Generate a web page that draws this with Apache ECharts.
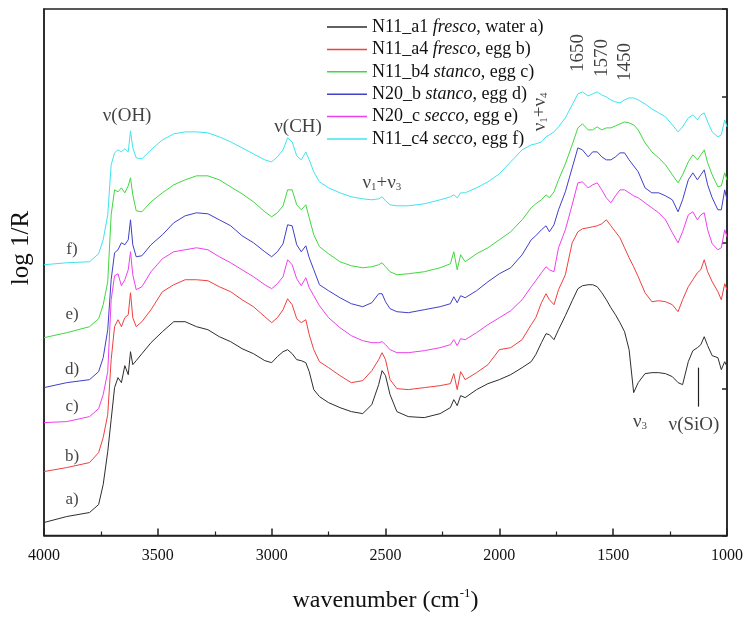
<!DOCTYPE html>
<html>
<head>
<meta charset="utf-8">
<title>NIR reflectance spectra</title>
<script src="https://cdn.jsdelivr.net/npm/echarts@6/dist/echarts.min.js"></script>
<style>
    html, body { margin: 0; padding: 0; background: #fff; }
    #chart { width: 751px; height: 618px; }
</style>
</head>
<body>
<div id="chart"></div>
<script>
// wavenumber grid (cm-1), shared by every spectrum
var wavenumbers = [
    4000, 3900, 3800, 3760, 3740, 3720, 3705, 3690, 3675, 3660,
    3645, 3630, 3620, 3610, 3595, 3570, 3530, 3480, 3430, 3380,
    3330, 3280, 3230, 3180, 3130, 3080, 3030, 3000, 2975, 2950,
    2930, 2910, 2890, 2870, 2850, 2835, 2815, 2790, 2750, 2700,
    2650, 2600, 2560, 2530, 2515, 2500, 2480, 2450, 2400, 2330,
    2260, 2215, 2200, 2185, 2170, 2150, 2100, 2050, 2000, 1950,
    1900, 1860, 1840, 1815, 1795, 1780, 1760, 1740, 1710, 1680,
    1655, 1635, 1610, 1590, 1570, 1550, 1530, 1510, 1490, 1470,
    1450, 1430, 1410, 1390, 1360, 1330, 1300, 1270, 1240, 1215,
    1195, 1170, 1150, 1130, 1115, 1100, 1085, 1065, 1040, 1025,
    1010, 1000
];

// log 1/R, spectra offset vertically (arbitrary units)
// N11_a1 fresco, water (black, lowest)
var specN11a1 = [
    0.13, 0.19, 0.23, 0.31, 0.51, 0.84, 1.16, 1.48, 1.58, 1.53,
    1.70, 1.61, 1.84, 1.71, 1.75, 1.82, 1.93, 2.04, 2.14, 2.14,
    2.09, 2.06, 1.99, 1.94, 1.87, 1.82, 1.75, 1.73, 1.79, 1.84,
    1.86, 1.82, 1.76, 1.75, 1.73, 1.64, 1.46, 1.39, 1.33, 1.28,
    1.24, 1.22, 1.31, 1.51, 1.65, 1.60, 1.41, 1.24, 1.19, 1.18,
    1.22, 1.28, 1.36, 1.30, 1.40, 1.38, 1.46, 1.52, 1.56, 1.61,
    1.68, 1.74, 1.81, 1.93, 2.02, 2.01, 1.96, 2.06, 2.20, 2.35,
    2.47, 2.50, 2.51, 2.51, 2.49, 2.43, 2.36, 2.28, 2.21, 2.13,
    2.04, 1.86, 1.43, 1.53, 1.62, 1.63, 1.63, 1.62, 1.59, 1.53,
    1.51, 1.74, 1.85, 1.88, 1.91, 1.99, 1.90, 1.80, 1.78, 1.66,
    1.74, 1.69
];
// N11_a4 fresco, egg (red)
var specN11a4 = [
    0.64, 0.68, 0.73, 0.83, 0.98, 1.21, 1.76, 2.09, 2.16, 2.09,
    2.18, 2.21, 2.43, 2.18, 2.09, 2.14, 2.26, 2.44, 2.51, 2.56,
    2.56, 2.55, 2.49, 2.44, 2.36, 2.29, 2.19, 2.13, 2.18, 2.26,
    2.37, 2.31, 2.17, 2.13, 2.16, 2.01, 1.86, 1.74, 1.68, 1.60,
    1.53, 1.55, 1.65, 1.76, 1.83, 1.76, 1.56, 1.47, 1.46, 1.48,
    1.50, 1.52, 1.62, 1.46, 1.64, 1.56, 1.63, 1.71, 1.86, 1.88,
    1.96, 2.11, 2.18, 2.33, 2.42, 2.36, 2.31, 2.46, 2.61, 2.93,
    3.04, 3.07, 3.08, 3.09, 3.10, 3.12, 3.16, 3.10, 3.04, 2.98,
    2.88, 2.78, 2.69, 2.59, 2.43, 2.34, 2.35, 2.34, 2.31, 2.24,
    2.36, 2.49, 2.56, 2.63, 2.66, 2.76, 2.64, 2.54, 2.44, 2.36,
    2.52, 2.46
];
// N11_b4 stanco, egg (green)
var specN11b4 = [
    1.98, 2.03, 2.09, 2.17, 2.31, 2.54, 3.21, 3.46, 3.44, 3.48,
    3.43, 3.50, 3.58, 3.41, 3.25, 3.24, 3.34, 3.43, 3.51, 3.56,
    3.60, 3.60, 3.56, 3.49, 3.42, 3.34, 3.24, 3.19, 3.23, 3.30,
    3.46, 3.46, 3.31, 3.26, 3.31, 3.18, 3.01, 2.89, 2.82, 2.74,
    2.70, 2.68, 2.69, 2.71, 2.73, 2.69, 2.64, 2.61, 2.62, 2.64,
    2.68, 2.72, 2.84, 2.66, 2.81, 2.74, 2.82, 2.88, 2.96, 3.04,
    3.16, 3.28, 3.32, 3.36, 3.41, 3.38, 3.44, 3.56, 3.72, 3.91,
    4.08, 4.12, 4.06, 4.06, 4.09, 4.06, 4.08, 4.08, 4.10, 4.12,
    4.14, 4.13, 4.11, 4.06, 3.93, 3.84, 3.78, 3.71, 3.61, 3.53,
    3.61, 3.74, 3.81, 3.76, 3.81, 3.86, 3.73, 3.61, 3.49, 3.50,
    3.63, 3.56
];
// N20_b stanco, egg (blue)
var specN20b = [
    1.48, 1.53, 1.56, 1.64, 1.78, 2.06, 2.56, 2.83, 2.86, 2.93,
    2.91, 2.96, 3.16, 2.91, 2.79, 2.80, 2.91, 3.01, 3.13, 3.20,
    3.23, 3.22, 3.16, 3.10, 3.00, 2.93, 2.84, 2.79, 2.84, 2.92,
    3.11, 3.10, 2.91, 2.84, 2.90, 2.78, 2.66, 2.51, 2.45, 2.38,
    2.32, 2.29, 2.33, 2.42, 2.42, 2.34, 2.27, 2.24, 2.23, 2.26,
    2.29, 2.32, 2.39, 2.33, 2.40, 2.38, 2.45, 2.54, 2.62, 2.68,
    2.81, 2.96, 3.00, 3.06, 3.10, 3.04, 3.11, 3.26, 3.44, 3.68,
    3.88, 3.86, 3.79, 3.84, 3.84, 3.79, 3.76, 3.76, 3.79, 3.83,
    3.83, 3.76, 3.70, 3.64, 3.48, 3.43, 3.43, 3.40, 3.36, 3.24,
    3.36, 3.56, 3.63, 3.56, 3.61, 3.66, 3.51, 3.38, 3.26, 3.26,
    3.46, 3.36
];
// N20_c secco, egg (magenta)
var specN20c = [
    1.13, 1.14, 1.19, 1.27, 1.41, 1.64, 2.36, 2.60, 2.62, 2.50,
    2.56, 2.66, 2.84, 2.61, 2.46, 2.49, 2.64, 2.77, 2.84, 2.86,
    2.88, 2.86, 2.79, 2.73, 2.66, 2.59, 2.51, 2.47, 2.52, 2.59,
    2.76, 2.71, 2.57, 2.50, 2.58, 2.48, 2.40, 2.30, 2.18, 2.08,
    2.00, 1.95, 1.93, 1.93, 1.94, 1.91, 1.86, 1.83, 1.83, 1.85,
    1.88, 1.91, 1.96, 1.90, 1.97, 1.96, 2.03, 2.11, 2.18, 2.25,
    2.36, 2.49, 2.55, 2.63, 2.69, 2.66, 2.64, 2.88, 3.06, 3.31,
    3.53, 3.54, 3.48, 3.51, 3.53, 3.46, 3.38, 3.33, 3.40, 3.46,
    3.46, 3.43, 3.40, 3.38, 3.33, 3.28, 3.23, 3.16, 3.03, 2.93,
    3.04, 3.21, 3.24, 3.16, 3.21, 3.23, 3.06, 2.92, 2.86, 2.88,
    3.06, 2.99
];
// N11_c4 secco, egg (cyan, top)
var specN11c4 = [
    2.71, 2.73, 2.74, 2.82, 2.96, 3.21, 3.71, 3.83, 3.86, 3.84,
    3.87, 3.84, 4.05, 3.88, 3.78, 3.77, 3.86, 3.96, 4.02, 4.04,
    4.04, 4.03, 3.99, 3.94, 3.88, 3.82, 3.76, 3.74, 3.79, 3.86,
    3.98, 3.94, 3.80, 3.76, 3.84, 3.76, 3.64, 3.54, 3.48, 3.43,
    3.39, 3.37, 3.36, 3.37, 3.39, 3.35, 3.31, 3.30, 3.30, 3.32,
    3.36, 3.39, 3.41, 3.38, 3.43, 3.43, 3.48, 3.54, 3.62, 3.74,
    3.86, 3.91, 3.92, 3.94, 3.99, 4.01, 4.04, 4.09, 4.18, 4.31,
    4.42, 4.44, 4.40, 4.42, 4.44, 4.41, 4.39, 4.36, 4.34, 4.33,
    4.36, 4.38, 4.38, 4.36, 4.32, 4.27, 4.23, 4.19, 4.11, 4.04,
    4.09, 4.18, 4.21, 4.16, 4.21, 4.23, 4.14, 4.04, 3.99, 4.01,
    4.16, 4.09
];

var sampleIds = ['N11_a1', 'N11_a4', 'N11_b4', 'N20_b', 'N20_c', 'N11_c4'];
var states = ['fresco', 'fresco', 'stanco', 'stanco', 'secco', 'secco'];
var binders = ['water', 'egg', 'egg', 'egg', 'egg', 'egg'];
var tags = ['a)', 'b)', 'c)', 'd)', 'e)', 'f)'];
var spectra = [specN11a1, specN11a4, specN11b4, specN20b, specN20c, specN11c4];
var colors = ['#2e2e2e', '#ee4040', '#40d840', '#4040c8', '#ee40ee', '#40e4ee'];

// curve tags drawn at the left edge, bottom to top: [wavenumber, log 1/R]
var tagPositions = [[3877, 0.36], [3877, 0.79], [3877, 1.29], [3877, 1.66], [3877, 2.21], [3877, 2.86]];

// band labels: [wavenumber, log 1/R, text, rotation]
var bandLabels = [
    [3635, 4.20, '{t|ν(OH)}', 0],
    [2884, 4.09, '{t|ν(CH)}', 0],
    [2516, 3.53, '{t|ν}{sub|1}{t|+ν}{sub|3}', 0],
    [1822, 4.24, '{t|ν}{sub|1}{t|+ν}{sub|4}', 90],
    [1655, 4.83, '{t|1650}', 90],
    [1549, 4.78, '{t|1570}', 90],
    [1448, 4.74, '{t|1450}', 90],
    [1382, 1.14, '{t|ν}{sub|3}', 0],
    [1145, 1.11, '{t|ν(SiO)}', 0]
];
// pointer line for the SiO band
var sioLine = [[1128, 1.68], [1128, 1.29]];

var FONT = '"Liberation Serif", "Times New Roman", serif';
var INK = '#111';

var names = sampleIds.map(function (id, i) {
    return id + ' ' + states[i] + ', ' + binders[i] + ' ' + tags[i];
});

var series = spectra.map(function (spec, i) {
    var s = {
        name: names[i],
        type: 'line',
        showSymbol: false,
        symbol: 'none',
        color: colors[i],
        lineStyle: {width: 1, color: colors[i]},
        data: wavenumbers.map(function (w, k) {
            return [w, spec[k]];
        }),
        z: 3
    };
    if (i === 0) {
        s.markLine = {
            silent: true,
            symbol: ['none', 'none'],
            label: {show: false},
            lineStyle: {color: '#222', width: 1.2, type: 'solid'},
            data: [[{coord: sioLine[0]}, {coord: sioLine[1]}]]
        };
    }
    return s;
});

var textRich = {
    t: {fontFamily: FONT, fontSize: 19, color: INK},
    sub: {fontFamily: FONT, fontSize: 11, color: INK, padding: [9, 0, 0, 0]}
};

// curve tags a) ... f)
series.push({
    type: 'scatter',
    symbolSize: 0,
    silent: true,
    data: tagPositions.map(function (p, i) {
        return {value: p, label: {formatter: tags[i]}};
    }),
    label: {
        show: true,
        position: 'inside',
        fontFamily: FONT,
        fontSize: 17,
        color: INK
    },
    z: 5
});

// band assignments
series.push({
    type: 'scatter',
    symbolSize: 0,
    silent: true,
    data: bandLabels.map(function (b) {
        return {value: [b[0], b[1]], label: {formatter: b[2], rotate: b[3]}};
    }),
    label: {
        show: true,
        position: 'inside',
        rich: textRich
    },
    z: 5
});

var chart = echarts.init(document.getElementById('chart'));

chart.setOption({
    animation: false,
    backgroundColor: '#fff',
    grid: {
        left: 44,
        right: 24,
        top: 9,
        bottom: 82,
        show: true,
        borderColor: '#222',
        borderWidth: 1.5
    },
    legend: {
        orient: 'vertical',
        left: 322,
        top: 13,
        icon: 'rect',
        itemWidth: 40,
        itemHeight: 1.5,
        itemGap: 4.4,
        data: names,
        formatter: function (name) {
            var i = names.indexOf(name);
            return '{n|' + sampleIds[i] + ' }{i|' + states[i] + '}{n|, ' + binders[i] + ' ' + tags[i] + '}';
        },
        textStyle: {
            fontFamily: FONT,
            fontSize: 18,
            lineHeight: 18,
            color: INK,
            rich: {
                n: {fontFamily: FONT, fontSize: 18, color: INK},
                i: {fontFamily: FONT, fontSize: 18, color: INK, fontStyle: 'italic'}
            }
        }
    },
    xAxis: {
        type: 'value',
        inverse: true,
        min: 1000,
        max: 4000,
        interval: 500,
        name: '{n|wavenumber (cm}{sup|-1}{n|)}',
        nameLocation: 'middle',
        nameGap: 52,
        nameTextStyle: {
            rich: {
                n: {fontFamily: FONT, fontSize: 24, color: INK},
                sup: {fontFamily: FONT, fontSize: 13, color: INK, padding: [0, 0, 14, 0]}
            }
        },
        axisLine: {lineStyle: {color: '#222', width: 1.5}},
        axisTick: {inside: true, length: 7, lineStyle: {color: '#222', width: 1.5}},
        minorTick: {show: true, splitNumber: 2, length: 4, lineStyle: {color: '#222', width: 1.2}},
        axisLabel: {
            fontFamily: FONT,
            fontSize: 16,
            color: INK,
            margin: 12,
            formatter: function (v) {
                return String(v);
            }
        },
        splitLine: {show: false}
    },
    yAxis: [{
        type: 'value',
        min: 0,
        max: 5.27,
        interval: 1.465,
        axisLine: {show: true, lineStyle: {color: '#222', width: 1.5}},
        axisTick: {show: false},
        axisLabel: {show: false},
        splitLine: {show: false}
    }, {
        type: 'value',
        position: 'right',
        min: 0,
        max: 5.27,
        interval: 1.465,
        axisLine: {show: true, lineStyle: {color: '#222', width: 1.5}},
        axisTick: {inside: true, length: 5, lineStyle: {color: '#222', width: 1.5}},
        axisLabel: {show: false},
        splitLine: {show: false}
    }],
    graphic: [{
        type: 'text',
        x: 21,
        y: 248,
        rotation: Math.PI / 2,
        style: {
            text: 'log 1/R',
            font: '25px ' + FONT,
            fill: INK,
            textAlign: 'center',
            textVerticalAlign: 'middle'
        }
    }],
    series: series
});
</script>
</body>
</html>
